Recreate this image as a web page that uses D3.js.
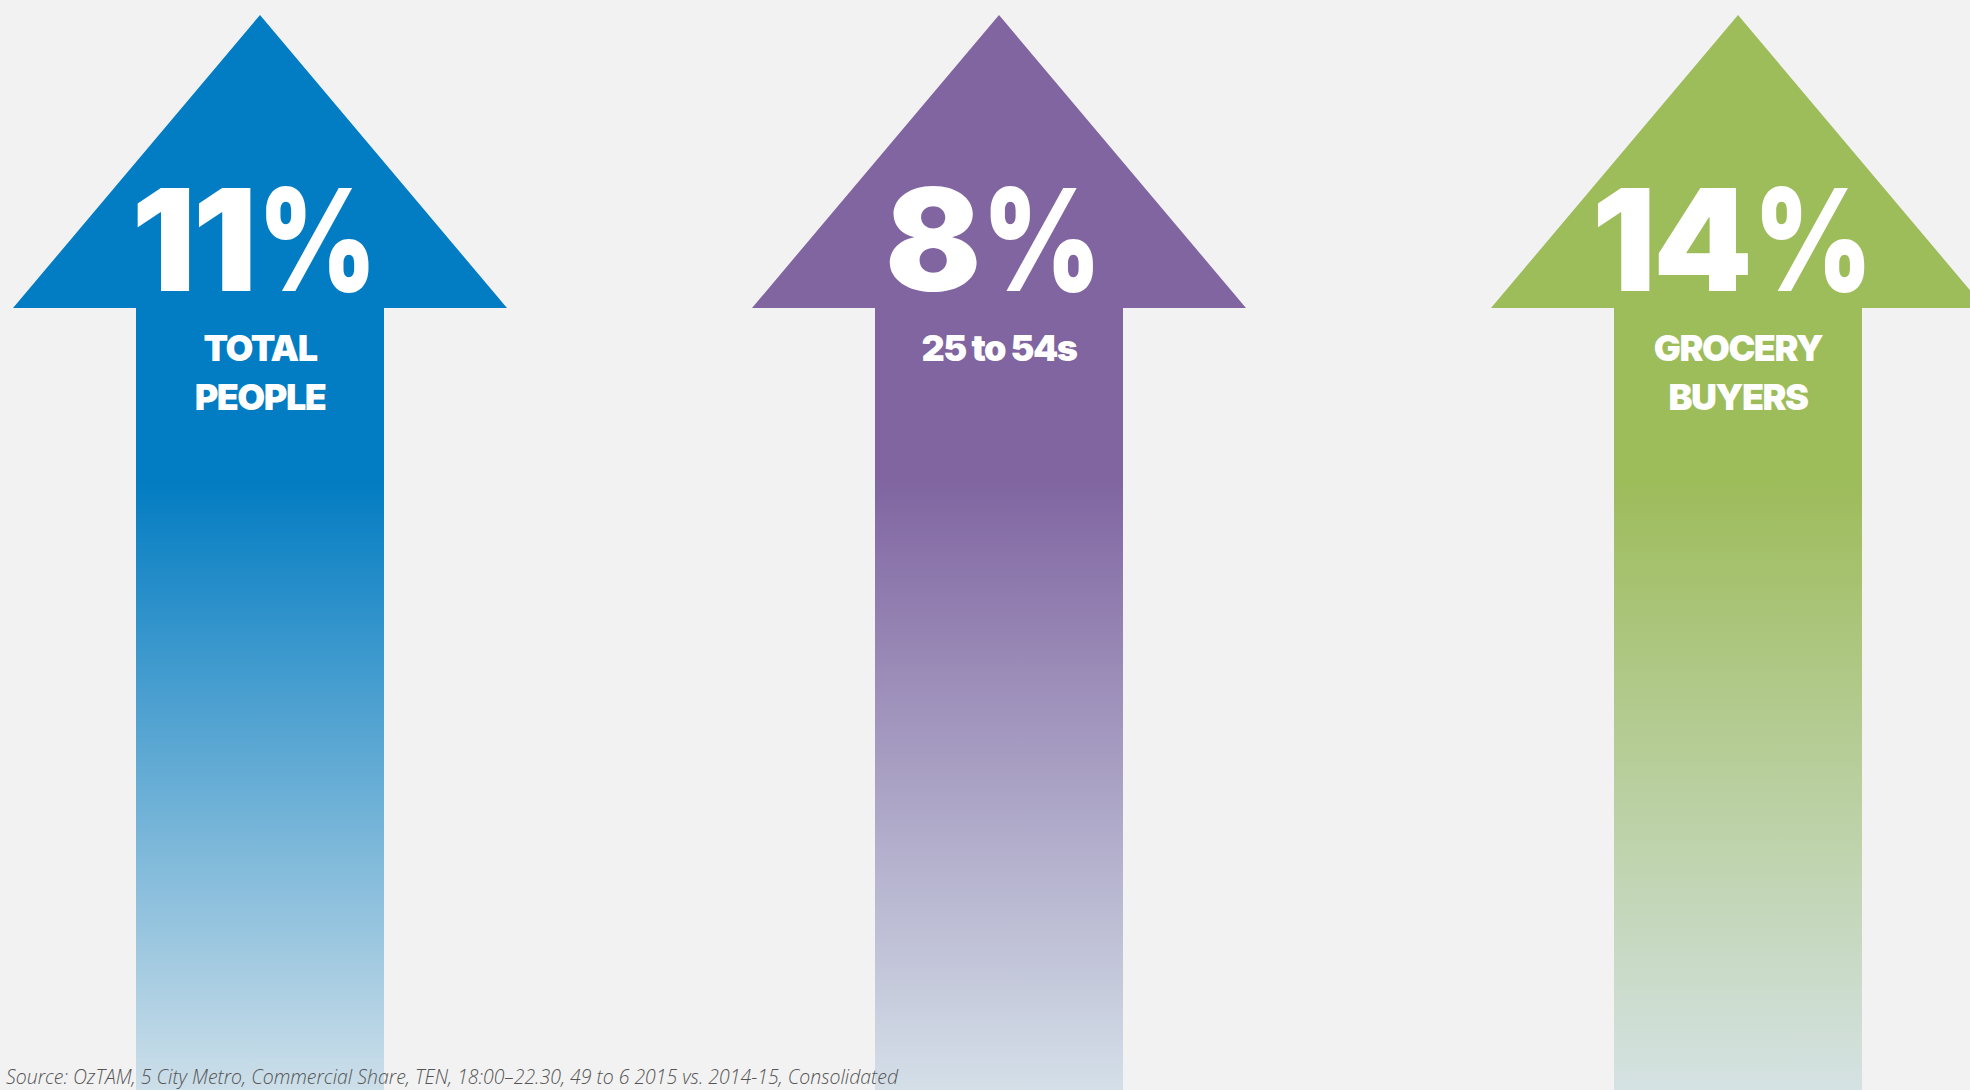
<!DOCTYPE html>
<html>
<head>
<meta charset="utf-8">
<script src="https://cdn.jsdelivr.net/npm/d3@7/dist/d3.min.js"></script>
<style>
  html, body { margin: 0; padding: 0; background: #f2f2f2; overflow: hidden; }
  svg { display: block; }
</style>
</head>
<body>
<svg id="chart" width="1970" height="1090"></svg>
<script>
// ---- data ----
const categories = ["TOTAL PEOPLE", "25 to 54s", "GROCERY BUYERS"];
const values = [11, 8, 14];
const labelLines = [["TOTAL", "PEOPLE"], ["25 to 54s"], ["GROCERY", "BUYERS"]];
const colors = ["#027cc2", "#8065a1", "#9dbc5a"];
const fadeColors = ["#cddfe9", "#d4dfe8", "#d5e2e3"];
const sourceText = "Source: OzTAM, 5 City Metro, Commercial Share, TEN, 18:00\u201322.30,  49 to 6 2015 vs. 2014-15, Consolidated";

// ---- layout ----
const W = 1970, H = 1090;
const svg = d3.select("#chart");
const x = d3.scalePoint().domain(categories).range([260, 1738]);
const y = d3.scaleLinear().domain([0, 1]).range([H, 15]);

const tipY = 15, headY = 308, headHalf = 247, shaftHalf = 124;
const heavy = "Inter, Lato, 'DejaVu Sans', sans-serif";

const defs = svg.append("defs");
categories.forEach((c, i) => {
  const g = defs.append("linearGradient")
    .attr("id", "grad" + i)
    .attr("gradientUnits", "userSpaceOnUse")
    .attr("x1", 0).attr("x2", 0).attr("y1", 0).attr("y2", H);
  g.append("stop").attr("offset", 480 / H).attr("stop-color", colors[i]);
  g.append("stop").attr("offset", 1).attr("stop-color", fadeColors[i]);
});

const arrows = svg.selectAll("g.arrow")
  .data(categories.map((c, i) => ({ c, i, v: values[i], lines: labelLines[i] })))
  .join("g").attr("class", "arrow");

arrows.append("path")
  .attr("fill", d => "url(#grad" + d.i + ")")
  .attr("d", d => {
    const cx = x(d.c);
    const p = d3.path();
    p.moveTo(cx, tipY);
    p.lineTo(cx + headHalf, headY);
    p.lineTo(cx + shaftHalf, headY);
    p.lineTo(cx + shaftHalf, y(0) + 5);
    p.lineTo(cx - shaftHalf, y(0) + 5);
    p.lineTo(cx - shaftHalf, headY);
    p.lineTo(cx - headHalf, headY);
    p.closePath();
    return p.toString();
  });

// big percentage: digits + narrower percent sign
arrows.each(function(d) {
  const g = d3.select(this).append("g").attr("class", "num");
  const t = g.append("text")
    .attr("x", 0).attr("y", 291)
    .attr("fill", "#ffffff")
    .style("font-family", heavy)
    .style("font-weight", 900)
    .style("font-size", "142px")
    .style("letter-spacing", "-3px")
    .text(d.v);
  const w1 = t.node().getComputedTextLength();
  const gap = 4, sx = 0.8;
  const p = g.append("text")
    .attr("transform", `translate(${w1 + gap},291) scale(${sx},1)`)
    .attr("fill", "#ffffff")
    .style("font-family", heavy)
    .style("font-weight", 900)
    .style("font-size", "142px")
    .text("%");
  const w2 = p.node().getComputedTextLength() * sx;
  const total = w1 + gap + w2;
  g.attr("transform", `translate(${x(d.c) - total / 2 - 6},0)`);
});

arrows.each(function(d) {
  const g = d3.select(this);
  d.lines.forEach((line, k) => {
    g.append("text")
      .attr("x", x(d.c))
      .attr("y", 361 + k * 49)
      .attr("text-anchor", "middle")
      .attr("fill", "#ffffff")
      .style("font-family", heavy)
      .style("font-weight", 900)
      .style("font-size", "36px")
      .style("letter-spacing", "-1.5px")
      .text(line);
  });
});

svg.append("text")
  .attr("x", 6)
  .attr("y", 1084)
  .attr("fill", "#555555")
  .attr("textLength", 892)
  .attr("lengthAdjust", "spacingAndGlyphs")
  .style("font-family", "'Open Sans', Lato, sans-serif")
  .style("font-style", "italic")
  .style("font-weight", 300)
  .style("font-size", "21px")
  .text(sourceText);
</script>
</body>
</html>
